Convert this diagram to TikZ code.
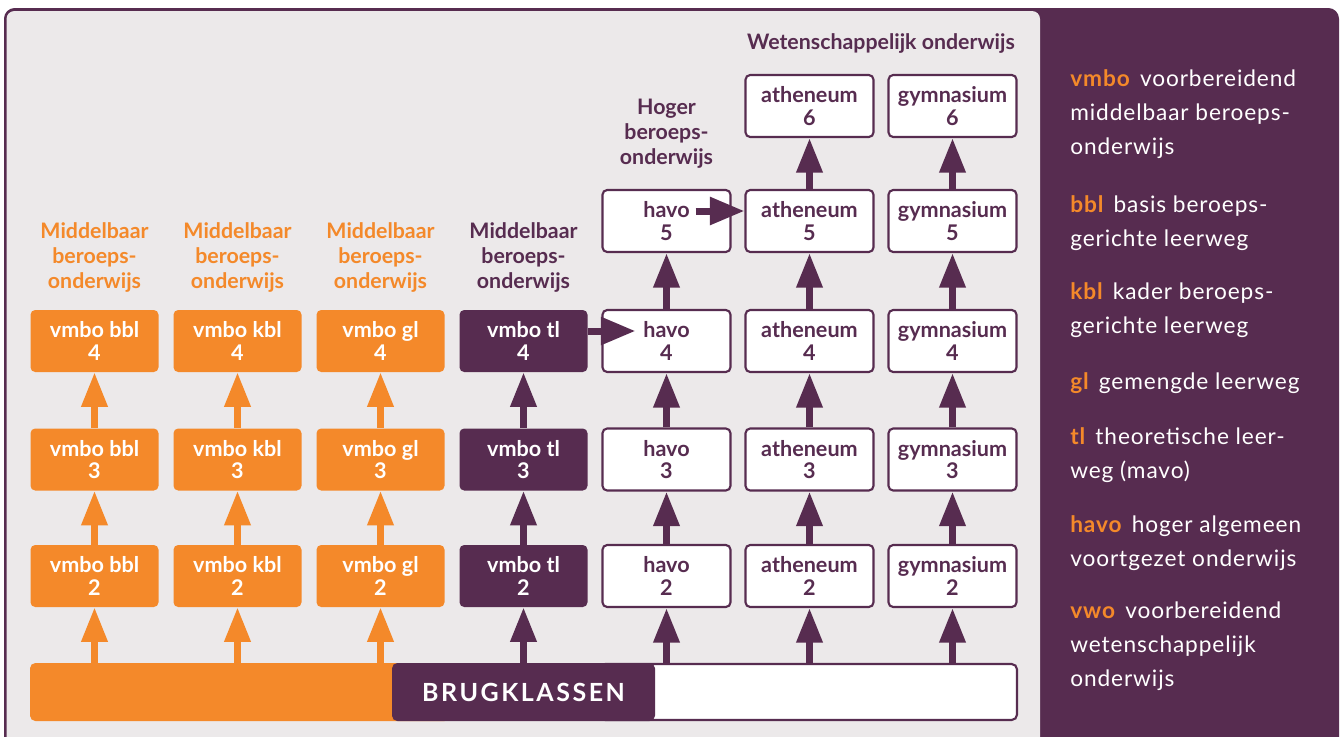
\documentclass[tikz,border=0pt]{standalone}
\usepackage{fontspec}
\setmainfont{Lato}
\newfontfamily\trackfont[LetterSpace=10]{Lato}
\newfontfamily\legendfont[LetterSpace=4]{Lato}
\usetikzlibrary{arrows.meta,positioning}

\definecolor{plum}{HTML}{572C50}
\definecolor{vorange}{HTML}{F4892A}
\definecolor{panel}{HTML}{ECE9EA}

\tikzset{
  box/.style={rounded corners=3.5pt, minimum width=96pt, minimum height=46.5pt, inner sep=0pt,
    align=center, font=\fontsize{16.2}{16.8}\selectfont\bfseries},
  obox/.style={box, fill=vorange, text=white},
  pbox/.style={box, fill=plum, text=white},
  wbox/.style={box, fill=white, draw=plum, line width=1.6pt, text=plum},
  head/.style={align=center, inner sep=0pt, font=\fontsize{16}{18.75}\selectfont\bfseries},
  uparr/.style={line width=5.25pt, -{Triangle[width=18.75pt,length=26pt]}},
  rarr/.style={line width=5.25pt, plum, -{Triangle[width=20pt,length=26pt]}},
  legend/.style={anchor=north west, inner sep=0pt, text=white, align=left,
    font=\legendfont\fontsize{17}{25.5}\selectfont},
}
\newcommand{\abbr}[1]{\textcolor{vorange}{\bfseries #1}\hspace{0.45em}}

\begin{document}
\begin{tikzpicture}[x=0.75pt,y=-0.75pt]
    \clip (0,0) rectangle (1342,736);
    \fill[white] (0,0) rectangle (1342,736);

    % Panels
    \fill[plum, rounded corners=8pt] (4,8) rectangle (1339,790);
    \fill[panel, rounded corners=6pt] (6.5,11) rectangle (1040,790);

    % Headings
    \node[head, text=vorange] (hbbl) at (94.5,257) {Middelbaar\\beroeps-\\onderwijs};
    \node[head, text=vorange] (hkbl) at (237.5,257) {Middelbaar\\beroeps-\\onderwijs};
    \node[head, text=vorange] (hgl) at (380.5,257) {Middelbaar\\beroeps-\\onderwijs};
    \node[head, text=plum] (htl) at (523.5,257) {Middelbaar\\beroeps-\\onderwijs};
    \node[head, text=plum] (hhbo) at (666.5,134) {Hoger\\beroeps-\\onderwijs};
    \node[head, text=plum] (hwo) at (881,43) {Wetenschappelijk onderwijs};

    % vmbo columns
    \node[obox] (bbl2) at (94.5,576) {vmbo bbl\\2};
    \node[obox] (bbl3) at (94.5,459.5) {vmbo bbl\\3};
    \node[obox] (bbl4) at (94.5,341) {vmbo bbl\\4};
    \node[obox] (kbl2) at (237.5,576) {vmbo kbl\\2};
    \node[obox] (kbl3) at (237.5,459.5) {vmbo kbl\\3};
    \node[obox] (kbl4) at (237.5,341) {vmbo kbl\\4};
    \node[obox] (gl2) at (380.5,576) {vmbo gl\\2};
    \node[obox] (gl3) at (380.5,459.5) {vmbo gl\\3};
    \node[obox] (gl4) at (380.5,341) {vmbo gl\\4};
    \node[pbox] (tl2) at (523.5,576) {vmbo tl\\2};
    \node[pbox] (tl3) at (523.5,459.5) {vmbo tl\\3};
    \node[pbox] (tl4) at (523.5,341) {vmbo tl\\4};

    % havo and vwo columns
    \node[wbox] (havo2) at (666.5,576) {havo\\2};
    \node[wbox] (havo3) at (666.5,459.5) {havo\\3};
    \node[wbox] (havo4) at (666.5,341) {havo\\4};
    \node[wbox] (havo5) at (666.5,221) {havo\\5};
    \node[wbox] (ath2) at (809.5,576) {atheneum\\2};
    \node[wbox] (ath3) at (809.5,459.5) {atheneum\\3};
    \node[wbox] (ath4) at (809.5,341) {atheneum\\4};
    \node[wbox] (ath5) at (809.5,221) {atheneum\\5};
    \node[wbox] (ath6) at (809.5,106) {atheneum\\6};
    \node[wbox] (gym2) at (952.5,576) {gymnasium\\2};
    \node[wbox] (gym3) at (952.5,459.5) {gymnasium\\3};
    \node[wbox] (gym4) at (952.5,341) {gymnasium\\4};
    \node[wbox] (gym5) at (952.5,221) {gymnasium\\5};
    \node[wbox] (gym6) at (952.5,106) {gymnasium\\6};

    % Brugklassen bar
    \fill[vorange, rounded corners=4pt] (30,663) rectangle (450,721);
    \draw[plum, fill=white, line width=1.6pt, rounded corners=4pt] (600,664) rectangle (1017,720);
    \node[pbox, rounded corners=4pt, minimum width=197.25pt, minimum height=43.5pt,
      font=\trackfont\fontsize{18.75}{20}\selectfont\bfseries] (brug) at (523.5,692) {BRUGKLASSEN};

    % Arrows from the bar
    \draw[uparr, vorange] (bbl2 |- brug.north) -- (bbl2.south);
    \draw[uparr, vorange] (kbl2 |- brug.north) -- (kbl2.south);
    \draw[uparr, vorange] (gl2 |- brug.north) -- (gl2.south);
    \draw[uparr, plum] (tl2 |- brug.north) -- (tl2.south);
    \draw[uparr, plum] (havo2 |- brug.north) -- (havo2.south);
    \draw[uparr, plum] (ath2 |- brug.north) -- (ath2.south);
    \draw[uparr, plum] (gym2 |- brug.north) -- (gym2.south);

    % Arrows up the years
    \draw[uparr, vorange] (bbl2) -- (bbl3.south);
    \draw[uparr, vorange] (bbl3.north) -- (bbl4.south);
    \draw[uparr, vorange] (kbl2.north) -- (kbl3.south);
    \draw[uparr, vorange] (kbl3.north) -- (kbl4.south);
    \draw[uparr, vorange] (gl2.north) -- (gl3.south);
    \draw[uparr, vorange] (gl3.north) -- (gl4.south);
    \draw[uparr, plum] (tl2.north) -- (tl3.south);
    \draw[uparr, plum] (tl3.north) -- (tl4.south);
    \draw[uparr, plum] (havo2.north) -- (havo3.south);
    \draw[uparr, plum] (havo3.north) -- (havo4.south);
    \draw[uparr, plum] (havo4.north) -- (havo5.south);
    \draw[uparr, plum] (ath2.north) -- (ath3.south);
    \draw[uparr, plum] (ath3.north) -- (ath4.south);
    \draw[uparr, plum] (ath4.north) -- (ath5.south);
    \draw[uparr, plum] (ath5.north) -- (ath6.south);
    \draw[uparr, plum] (gym2.north) -- (gym3.south);
    \draw[uparr, plum] (gym3.north) -- (gym4.south);
    \draw[uparr, plum] (gym4.north) -- (gym5.south);
    \draw[uparr, plum] (gym5.north) -- (gym6.south);

    % Side steps
    \draw[rarr] ([yshift=7.5pt]tl4.east) -- ([xshift=25.5pt,yshift=7.5pt]havo4.west);
    \draw[rarr] ([xshift=-27pt,yshift=7.5pt]havo5.east) -- ([yshift=7.5pt]ath5.west);

    % Legend
    \node[legend] (lvmbo) at (1070,69) {\abbr{vmbo}voorbereidend\\middelbaar beroeps-\\onderwijs};
    \node[legend] (lbbl) at (1070,195) {\abbr{bbl}basis beroeps-\\gerichte leerweg};
    \node[legend] (lkbl) at (1070,282) {\abbr{kbl}kader beroeps-\\gerichte leerweg};
    \node[legend] (lgl) at (1070,372) {\abbr{gl}gemengde leerweg};
    \node[legend] (ltl) at (1070,427) {\abbr{tl}theoretische leer-\\weg (mavo)};
    \node[legend] (lhavo) at (1070,515) {\abbr{havo}hoger algemeen\\voortgezet onderwijs};
    \node[legend] (lvwo) at (1070,602) {\abbr{vwo}voorbereidend\\wetenschappelijk\\onderwijs};
\end{tikzpicture}
\end{document}
